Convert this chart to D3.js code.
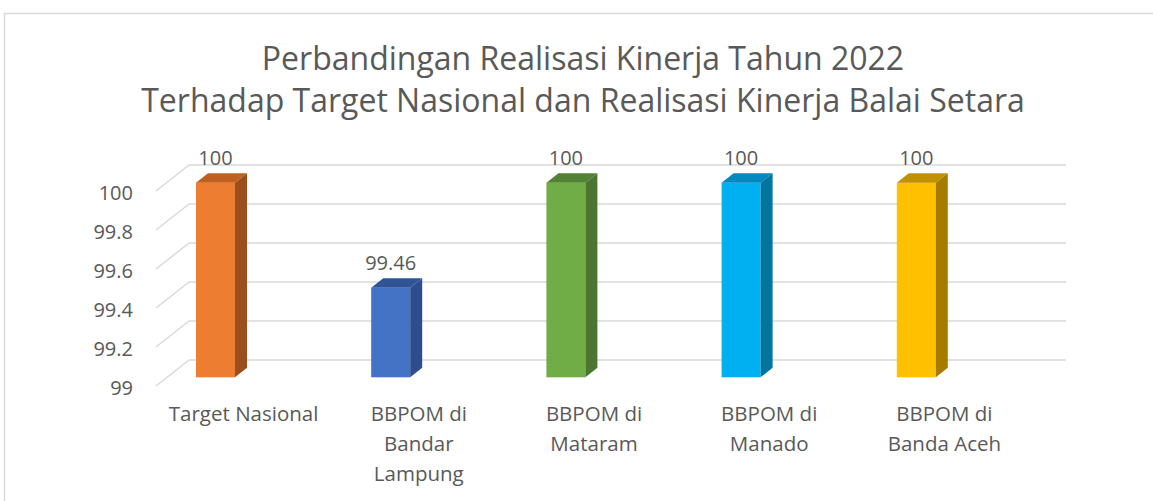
<!DOCTYPE html>
<html>
<head>
<meta charset="utf-8">
<script src="https://cdn.jsdelivr.net/npm/d3@7"></script>
<style>
  body { margin: 0; background: #fff; }
  text { font-family: "Open Sans", sans-serif; fill: #595959; }
</style>
</head>
<body>
<div class="chart"></div>
<script>
// chart data
var categories = ["Target Nasional", "BBPOM di Bandar Lampung", "BBPOM di Mataram", "BBPOM di Manado", "BBPOM di Banda Aceh"];
var categoryLines = [["Target Nasional"], ["BBPOM di", "Bandar", "Lampung"], ["BBPOM di", "Mataram"], ["BBPOM di", "Manado"], ["BBPOM di", "Banda Aceh"]];
var values = [100, 99.46, 100, 100, 100];
var valueLabels = ["100", "99.46", "100", "100", "100"];
var tickValues = [99, 99.2, 99.4, 99.6, 99.8, 100];
var tickLabels = ["99", "99.2", "99.4", "99.6", "99.8", "100"];
var titleLines = ["Perbandingan Realisasi Kinerja Tahun 2022", "Terhadap Target Nasional dan Realisasi Kinerja Balai Setara"];

var frontColors = ["#ED7D31", "#4472C4", "#70AD47", "#00B0F0", "#FFC000"];
var topColors = ["#C0601F", "#2F5597", "#548235", "#0089BE", "#BF9000"];
var sideColors = ["#9A4F1E", "#2D4E8A", "#4B7530", "#00759F", "#A67C00"];

var svgWidth = 1153;
var svgHeight = 501;

// 3D offsets (floor depth and bar depth)
var floorDx = 33, floorDy = -26;
var barDx = 12, barDy = -9.5;

var svg = d3.select(".chart")
  .append("svg")
  .attr("width", svgWidth)
  .attr("height", svgHeight);

// chart frame
svg.append("rect")
  .attr("x", 4.5)
  .attr("y", 13.5)
  .attr("width", 1160)
  .attr("height", 500)
  .attr("fill", "none")
  .attr("stroke", "#d9d9d9")
  .attr("stroke-width", 1.5);

// title
svg.append("g").selectAll("text")
  .data(titleLines)
  .enter()
  .append("text")
  .attr("x", 583)
  .attr("y", (d, i) => 70 + i * 42)
  .attr("text-anchor", "middle")
  .style("font-size", "32px")
  .text(d => d);

// scales: back wall y, front of bar y, floor front x
var yBack = d3.scaleLinear().domain([99, 100]).range([360, 165]);
var yBar = d3.scaleLinear().domain([99, 100]).range([377.3, 182.7]);
var xScale = d3.scaleBand().domain(categories).range([156, 1032]);

// gridlines on back wall plus diagonal side lines
var grid = svg.append("g");
tickValues.forEach(function(t) {
  var yb = yBack(t);
  grid.append("line")
    .attr("x1", 156 + floorDx).attr("y1", yb)
    .attr("x2", 1066).attr("y2", yb)
    .attr("stroke", "#d9d9d9").attr("stroke-width", 1.5);
  grid.append("line")
    .attr("x1", 156).attr("y1", yb - floorDy)
    .attr("x2", 156 + floorDx).attr("y2", yb)
    .attr("stroke", "#d9d9d9").attr("stroke-width", 1.5);
});

// y tick labels
svg.append("g").selectAll("text")
  .data(tickValues)
  .enter()
  .append("text")
  .attr("x", 133)
  .attr("y", d => yBack(d) - floorDy + 2)
  .attr("dy", "0.35em")
  .attr("text-anchor", "end")
  .style("font-size", "20px")
  .text((d, i) => tickLabels[i]);

// bars
var bars = svg.append("g").selectAll("g")
  .data(values)
  .enter()
  .append("g");

var barW = 39;
function barLeft(i) {
  return xScale(categories[i]) + xScale.bandwidth() / 2 - 47.6;
}

// front face
bars.append("rect")
  .attr("x", (d, i) => barLeft(i))
  .attr("y", d => yBar(d))
  .attr("width", barW)
  .attr("height", d => yBar(99) - yBar(d))
  .attr("fill", (d, i) => frontColors[i]);

// top face
bars.append("path")
  .attr("d", function(d, i) {
    var x0 = barLeft(i), y0 = yBar(d);
    return "M" + x0 + "," + y0 +
      "L" + (x0 + barDx) + "," + (y0 + barDy) +
      "L" + (x0 + barW + barDx) + "," + (y0 + barDy) +
      "L" + (x0 + barW) + "," + y0 + "Z";
  })
  .attr("fill", (d, i) => topColors[i]);

// side face
bars.append("path")
  .attr("d", function(d, i) {
    var x0 = barLeft(i) + barW, y0 = yBar(d), y1 = yBar(99);
    return "M" + x0 + "," + y0 +
      "L" + (x0 + barDx) + "," + (y0 + barDy) +
      "L" + (x0 + barDx) + "," + (y1 + barDy) +
      "L" + x0 + "," + y1 + "Z";
  })
  .attr("fill", (d, i) => sideColors[i]);

// data labels
bars.append("text")
  .attr("x", (d, i) => barLeft(i) + barW / 2)
  .attr("y", d => yBar(d) - 18)
  .attr("text-anchor", "middle")
  .style("font-size", "20px")
  .text((d, i) => valueLabels[i]);

// category labels
var catGroup = svg.append("g").selectAll("text")
  .data(categories)
  .enter()
  .append("text")
  .attr("x", d => xScale(d) + xScale.bandwidth() / 2)
  .attr("y", 421)
  .attr("text-anchor", "middle")
  .style("font-size", "20.5px");

catGroup.each(function(d, i) {
  var el = d3.select(this);
  categoryLines[i].forEach(function(line, j) {
    el.append("tspan")
      .attr("x", xScale(d) + xScale.bandwidth() / 2)
      .attr("y", 421 + j * 30)
      .text(line);
  });
});
</script>
</body>
</html>
